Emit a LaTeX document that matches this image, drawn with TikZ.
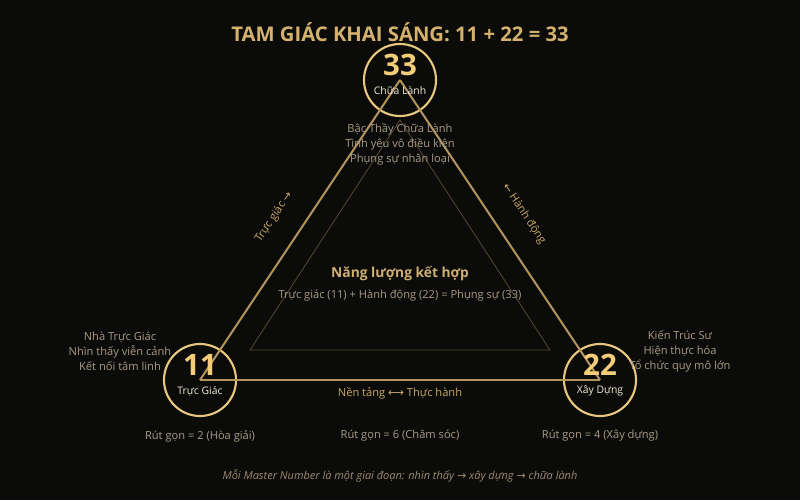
\documentclass[tikz,border=0pt]{standalone}
\usepackage{fontspec}
\setmainfont{Open Sans}
\newfontfamily\arrowfont{DejaVu Sans}
\usetikzlibrary{positioning}

\definecolor{bgcol}{HTML}{0B0B0A}
\definecolor{titlegold}{HTML}{D4B26E}
\definecolor{numgold}{HTML}{F3CD78}
\definecolor{ringgold}{HTML}{E8C87E}
\definecolor{edgegold}{HTML}{B4955E}
\definecolor{innergold}{HTML}{54472F}
\definecolor{desctext}{HTML}{A89C86}
\definecolor{captext}{HTML}{F2EAD8}
\definecolor{linkgold}{HTML}{C9A766}
\definecolor{footertext}{HTML}{9C8C72}

\tikzset{
  master/.style={draw=ringgold, line width=1.5pt, circle, minimum size=1.8cm, inner sep=0pt},
  mnum/.style={text=numgold, font=\fontsize{21}{24}\selectfont\bfseries},
  mname/.style={text=captext, font=\fontsize{7.4}{9}\selectfont},
  desc/.style={text=desctext, align=center, font=\fontsize{7.9}{10.6}\selectfont},
  side/.style={draw=edgegold, line width=1.4pt},
  linklabel/.style={text=linkgold, font=\fontsize{7.9}{9}\selectfont},
}

\begin{document}
\begin{tikzpicture}[x=0.025cm, y=-0.025cm]
  \fill[bgcol] (0,0) rectangle (800,500);
  \useasboundingbox (0,0) rectangle (800,500);

  \node (title) [text=titlegold, font=\fontsize{14.4}{17}\selectfont\bfseries] at (400,32) {TAM GIÁC KHAI SÁNG: 11 + 22 = 33};

  % inner triangle
  \coordinate (inner_top) at (400,120);
  \coordinate (inner_left) at (250,350);
  \coordinate (inner_right) at (550,350);
  \draw[innergold, line width=0.6pt] (inner_top) -- (inner_left) -- (inner_right) -- cycle;

  \node (n33) [master] at (400,80) {};
  \node (n11) [master] at (200,380) {};
  \node (n22) [master] at (600,380) {};

  \draw[side] (n11.center) -- node[linklabel, sloped, above=4.4mm, pos=0.49] {Trực giác {\arrowfont →}} (n33.center);
  \draw[side] (n33.center) -- node[linklabel, sloped, above=4.4mm, pos=0.5] {{\arrowfont ←} Hành động} (n22.center);
  \draw[side] (n11.center) -- node[linklabel, below=1pt] {Nền tảng {\arrowfont ⟷} Thực hành} (n22.center);

  \foreach \n/\lab in {33/Chữa Lành, 11/Trực Giác, 22/Xây Dựng} {
    \node (num\n) [mnum] at ([yshift=0.375cm]n\n.center) {\n};
    \node (name\n) [mname] at ([yshift=-0.275cm]n\n.center) {\lab};
  }

  \node (desc33) [desc, below=0.3mm of n33] {Bậc Thầy Chữa Lành\\Tình yêu vô điều kiện\\Phụng sự nhân loại};
  \node (desc11) [desc] at (120,351) {Nhà Trực Giác\\Nhìn thấy viễn cảnh\\Kết nối tâm linh};
  \node (desc22) [desc] at (680,351) {Kiến Trúc Sư\\Hiện thực hóa\\Tổ chức quy mô lớn};

  \node (energy) [text=titlegold!85!desctext, font=\fontsize{9.8}{11}\selectfont\bfseries] at (400,274) {Năng lượng kết hợp};
  \node (energy_sum) [desc] at (400,296) {Trực giác (11) + Hành động (22) = Phụng sự (33)};

  \node (red11) [desc] at (200,436) {Rút gọn = 2 (Hòa giải)};
  \node (red33) [desc] at (400,436) {Rút gọn = 6 (Chăm sóc)};
  \node (red22) [desc] at (600,436) {Rút gọn = 4 (Xây dựng)};

  \node (footer) [text=footertext, font=\fontsize{7.8}{9}\selectfont\itshape] at (400,476) {Mỗi Master Number là một giai đoạn: nhìn thấy {\arrowfont →} xây dựng {\arrowfont →} chữa lành};
\end{tikzpicture}
\end{document}
